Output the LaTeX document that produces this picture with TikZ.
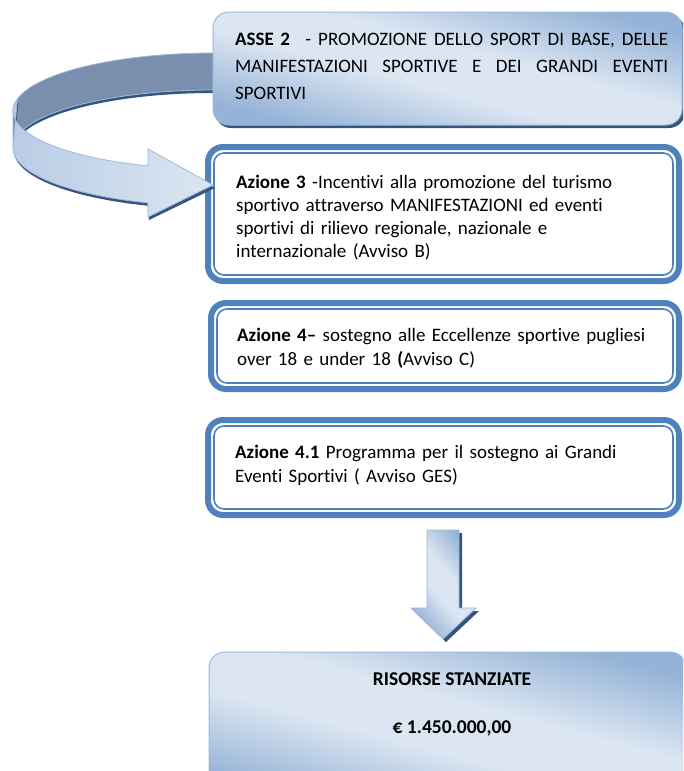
\documentclass[tikz,border=0pt]{standalone}
\usepackage{fontspec}
\setmainfont{Carlito}[Ligatures={TeX,NoCommon}]
\definecolor{frameblue}{HTML}{4F81BD}
\definecolor{glight}{HTML}{DCE6F2}
\definecolor{gmid}{HTML}{B9CDE5}
\definecolor{gdark}{HTML}{95B3D7}
\definecolor{edgeblue}{HTML}{9DB9DC}
\definecolor{backface}{HTML}{7A8FAD}
\definecolor{shadowc}{HTML}{34557E}
\pgfdeclarehorizontalshading{bandshade}{100bp}{color(0bp)=(gdark); color(25bp)=(gdark); color(44bp)=(glight); color(56bp)=(glight); color(75bp)=(gdark); color(100bp)=(gdark)}
\tikzset{
  boxtext/.style={anchor=base west, inner sep=0pt, font=\fontsize{19}{23.3}\selectfont},
  thickframe/.style={draw=frameblue, line width=6pt, fill=white, rounded corners=15pt},
  thinframe/.style={draw=frameblue, line width=1.6pt, rounded corners=10pt},
  gradbox/.style={shading=bandshade, shading angle=75, draw=edgeblue, line width=1pt, rounded corners=16pt},
  shadowfill/.style={fill=shadowc, rounded corners=16pt},
}
\begin{document}
\begin{tikzpicture}[x=1pt,y=-1pt]
\useasboundingbox (0,0) rectangle (683,771);
\clip (0,0) rectangle (683,771);

% ---- curved arrow: back face ----
\fill[shadowc] plot[domain=90:172,samples=60,variable=\t] ({213+200*cos(\t)},{151-58*sin(\t)})
  -- plot[domain=172:90,samples=60,variable=\t] ({213+200*cos(\t)},{148-58*sin(\t)}) -- cycle;
\fill[backface, draw=edgeblue, line width=0.8pt] plot[domain=90:180,samples=60,variable=\t] ({213+200*cos(\t)},{111-58*sin(\t)})
  -- plot[domain=180:90,samples=60,variable=\t] ({213+200*cos(\t)},{148-58*sin(\t)}) -- cycle;

% ---- top box ----
\fill[shadowfill] (215,15) rectangle (685,128);
\shade[gradbox] (213,12) rectangle (682,125);
\node[boxtext, text width=433pt, font=\fontsize{19}{27.2}\selectfont] (asse) at (235,45)
  {\noindent\makebox[433pt][l]{\textbf{ASSE 2}\hspace{0.45em}\hfill-\hfill PROMOZIONE\hfill DELLO\hfill SPORT\hfill DI\hfill BASE,\hfill DELLE}\\
   \makebox[433pt][l]{MANIFESTAZIONI\hfill SPORTIVE\hfill E\hfill DEI\hfill GRANDI\hfill EVENTI}\\
   SPORTIVI};

% ---- Azione 3 box ----
\draw[thickframe] (208,147) rectangle (679,281);
\draw[thinframe] (214,153) rectangle (673,275);
\node[boxtext, text width=430pt] (a3) at (236,188)
  {\textbf{Azione 3} -Incentivi alla promozione del turismo\\
   sportivo attraverso MANIFESTAZIONI ed eventi\\
   sportivi di rilievo regionale, nazionale e\\
   internazionale (Avviso B)};

% ---- curved arrow: front face ----
\fill[shadowc] plot[domain=168:251,samples=60,variable=\t] ({214+200*cos(\t)},{114-58*sin(\t)})
  -- (149,152) -- (215,188) -- (149,220)
  -- plot[domain=251:180,samples=60,variable=\t] ({214+200*cos(\t)},{151-58*sin(\t)}) -- cycle;
\shade[left color=gmid, right color=glight, draw=edgeblue, line width=0.8pt]
  plot[domain=168:251,samples=60,variable=\t] ({213+200*cos(\t)},{111-58*sin(\t)})
  -- (148,149) -- (213,185) -- (148,217)
  -- plot[domain=251:180,samples=60,variable=\t] ({213+200*cos(\t)},{148-58*sin(\t)}) -- cycle;

% ---- Azione 4 box ----
\draw[thickframe] (211,303) rectangle (679,389);
\draw[thinframe] (217,309) rectangle (673,383);
\node[boxtext, text width=430pt, font=\fontsize{19}{24.5}\selectfont] (a4) at (237,341)
  {\textbf{Azione 4–} sostegno alle Eccellenze sportive pugliesi\\
   over 18 e under 18 \textbf{(}Avviso C)};

% ---- Azione 4.1 box ----
\draw[thickframe] (208,420) rectangle (679,515);
\draw[thinframe] (214,426) rectangle (673,509);
\node[boxtext, text width=430pt, font=\fontsize{19}{24}\selectfont] (a41) at (235,458)
  {\textbf{Azione 4.1} Programma per il sostegno ai Grandi\\
   Eventi Sportivi ( Avviso GES)};

% ---- down arrow ----
\fill[shadowc] (430,533) -- (462,533) -- (462,611) -- (479,611) -- (446,642) -- (414,611) -- (430,611) -- cycle;
\shade[shading=bandshade, shading angle=40, draw=edgeblue, line width=0.8pt]
  (427,530) -- (459,530) -- (459,608) -- (476,608) -- (443,639) -- (411,608) -- (427,608) -- cycle;

% ---- bottom box ----
\shade[gradbox] (209,652) rectangle (686,800);
\node[font=\fontsize{19.5}{22}\selectfont\bfseries, inner sep=0pt] (ris) at (452,679) {RISORSE STANZIATE};
\node[font=\fontsize{19.5}{22}\selectfont\bfseries, inner sep=0pt] (eur) at (452,728) {€ 1.450.000,00};
\end{tikzpicture}
\end{document}
